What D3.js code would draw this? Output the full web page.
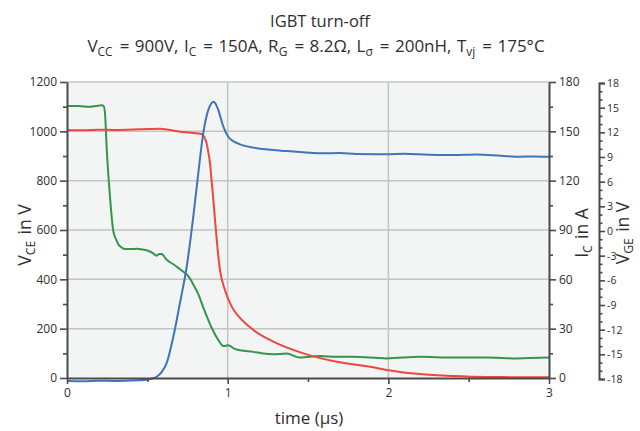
<!DOCTYPE html>
<html>
<head>
<meta charset="utf-8">
<script src="https://cdn.jsdelivr.net/npm/d3@7"></script>
<style>
  html, body { margin: 0; padding: 0; background: #ffffff; }
  svg { display: block; font-family: "Open Sans", "Noto Sans", sans-serif; }
</style>
</head>
<body>
<svg id="chart" width="640" height="431"></svg>
<script>
// ---------- data ----------
const vceTime = [0, 0.1, 0.2, 0.3, 0.4, 0.45, 0.5, 0.53, 0.558, 0.59, 0.62, 0.66, 0.703, 0.745, 0.786, 0.817, 0.848, 0.879, 0.895, 0.911, 0.925, 0.942, 0.973, 1.004, 1.03, 1.056, 1.1, 1.16, 1.25, 1.367, 1.45, 1.575, 1.7, 1.8, 1.99, 2.1, 2.25, 2.4, 2.55, 2.7, 2.82, 2.9, 3.0];
const vceValues = [-12, -13, -11, -12, -10, -9, -6, -2, 5, 25, 60, 162, 304, 451, 654, 830, 992, 1086, 1110, 1120, 1112, 1086, 1019, 978, 962, 953, 942, 934, 926, 920, 916, 911, 912, 908, 907, 909, 905, 904, 906, 901, 897, 898, 897];

const icTime = [0, 0.1, 0.2, 0.3, 0.454, 0.579, 0.64, 0.703, 0.77, 0.838, 0.855, 0.869, 0.88, 0.89, 0.9, 0.911, 0.932, 0.952, 0.983, 1.025, 1.077, 1.16, 1.284, 1.471, 1.679, 1.886, 1.99, 2.197, 2.404, 2.61, 2.8, 3.0];
const icValues = [150.8, 150.6, 151, 150.8, 151.2, 151.6, 150.8, 149.8, 149.2, 148.4, 146.5, 142.7, 137, 130.6, 120, 108.2, 83.9, 65.7, 53.5, 43.4, 36.5, 29.2, 22.1, 15.0, 9.9, 6.9, 4.9, 2.4, 1.2, 0.6, 0.5, 0.4];

const vgeTime = [0, 0.07, 0.143, 0.18, 0.216, 0.228, 0.237, 0.247, 0.268, 0.288, 0.305, 0.319, 0.34, 0.361, 0.4, 0.434, 0.47, 0.506, 0.535, 0.558, 0.575, 0.589, 0.62, 0.662, 0.7, 0.734, 0.76, 0.786, 0.82, 0.848, 0.875, 0.901, 0.94, 0.973, 1.004, 1.04, 1.077, 1.16, 1.22, 1.284, 1.367, 1.45, 1.575, 1.68, 1.78, 1.99, 2.197, 2.4, 2.61, 2.8, 3.0];
const vgeValues = [15.2, 15.2, 15.1, 15.2, 15.3, 15.2, 14.2, 10.1, 4.05, 0.0, -1.0, -1.6, -2.0, -2.2, -2.2, -2.15, -2.25, -2.4, -2.7, -3.0, -2.8, -2.8, -3.5, -4.05, -4.6, -5.1, -5.6, -6.5, -7.8, -9.3, -10.6, -11.8, -13.2, -14.0, -13.9, -14.3, -14.5, -14.7, -14.9, -15.0, -14.9, -15.4, -15.2, -15.3, -15.3, -15.5, -15.3, -15.4, -15.4, -15.5, -15.4];

const xTicks = [0, 1, 2, 3];
const xMinorTicks = [0.5, 1.5, 2.5];
const vceTicks = [0, 200, 400, 600, 800, 1000, 1200];
const vceMinorTicks = [100, 300, 500, 700, 900, 1100];
const icTicks = [0, 30, 60, 90, 120, 150, 180];
const icMinorTicks = [15, 45, 75, 105, 135, 165];
const vgeTicks = [-18, -15, -12, -9, -6, -3, 0, 3, 6, 9, 12, 15, 18];
const vgeMinorTicks = [-17, -16, -14, -13, -11, -10, -8, -7, -5, -4, -2, -1, 1, 2, 4, 5, 7, 8, 10, 11, 13, 14, 16, 17];

// ---------- layout ----------
const svg = d3.select("#chart");
const L = 67, R = 549, T = 82, B = 378;
const x = d3.scaleLinear().domain([0, 3]).range([L, R]);
const yV = d3.scaleLinear().domain([0, 1200]).range([B, T]);
const yI = d3.scaleLinear().domain([0, 180]).range([B, T]);
const yG = d3.scaleLinear().domain([-18, 18]).range([B + 1, T + 1]);

const textCol = "#2e2e2e";
const axisCol = "#4a4a4a";
const fmt = d => String(d);   // plain hyphen for negatives, as in the reference

// plot background
svg.append("rect").attr("x", L).attr("y", T).attr("width", R - L).attr("height", B - T)
  .attr("fill", "#f3f4f4");

// grid
const grid = svg.append("g").attr("stroke", "#c4c4c4").attr("stroke-width", 1.5);
grid.selectAll("line.h").data(vceTicks.filter(d => d > 0)).join("line")
  .attr("x1", L).attr("x2", R).attr("y1", d => yV(d)).attr("y2", d => yV(d));
grid.selectAll("line.v").data([1, 2]).join("line")
  .attr("x1", d => x(d)).attr("x2", d => x(d)).attr("y1", T).attr("y2", B);

// curves
function curve(ts, vs, ys, color) {
  const line = d3.line().x((d, i) => x(ts[i])).y((d, i) => ys(vs[i])).curve(d3.curveMonotoneX);
  svg.append("path").datum(vs).attr("d", line).attr("fill", "none")
    .attr("stroke", color).attr("stroke-width", 2).attr("stroke-linejoin", "round");
}
curve(vgeTime, vgeValues, yG, "#33964a");
curve(icTime, icValues, yI, "#f0463f");
curve(vceTime, vceValues, yV, "#3f74bb");

// axes helpers
function styleAxis(g) {
  g.selectAll("path.domain").attr("stroke", axisCol).attr("stroke-width", 2);
  g.selectAll(".tick line").attr("stroke", axisCol).attr("stroke-width", 1.6);
  g.selectAll(".tick text").attr("fill", textCol).attr("font-size", 12)
    .attr("font-family", "'Open Sans', sans-serif");
}
function minor(g) {
  g.select("path.domain").remove();
  g.selectAll(".tick line").attr("stroke", axisCol).attr("stroke-width", 1.6);
}

// bottom axis
const gx = svg.append("g").attr("transform", `translate(0,${B})`)
  .call(d3.axisBottom(x).tickValues(xTicks).tickFormat(fmt).tickSize(6).tickSizeOuter(0).tickPadding(4));
styleAxis(gx);
svg.append("g").attr("transform", `translate(0,${B})`)
  .call(d3.axisBottom(x).tickValues(xMinorTicks).tickFormat("").tickSize(4).tickSizeOuter(0))
  .call(minor);

// left axis
const gl = svg.append("g").attr("transform", `translate(${L},0)`)
  .call(d3.axisLeft(yV).tickValues(vceTicks).tickFormat(fmt).tickSize(7).tickSizeOuter(0).tickPadding(3));
styleAxis(gl);
svg.append("g").attr("transform", `translate(${L},0)`)
  .call(d3.axisLeft(yV).tickValues(vceMinorTicks).tickFormat("").tickSize(4).tickSizeOuter(0))
  .call(minor);

// right Ic axis
const gr = svg.append("g").attr("transform", `translate(${R},0)`)
  .call(d3.axisRight(yI).tickValues(icTicks).tickFormat(fmt).tickSize(7).tickSizeOuter(0).tickPadding(3));
styleAxis(gr);
svg.append("g").attr("transform", `translate(${R},0)`)
  .call(d3.axisRight(yI).tickValues(icMinorTicks).tickFormat("").tickSize(4).tickSizeOuter(0))
  .call(minor);

// VGE axis
const GX = 599;
const gg = svg.append("g").attr("transform", `translate(${GX},0)`)
  .call(d3.axisRight(yG).tickValues(vgeTicks).tickFormat(fmt).tickSize(6).tickSizeOuter(6).tickPadding(2));
styleAxis(gg);
gg.selectAll(".tick text").attr("font-size", 10.5);
svg.append("g").attr("transform", `translate(${GX},0)`)
  .call(d3.axisRight(yG).tickValues(vgeMinorTicks).tickFormat("").tickSize(3.5).tickSizeOuter(0))
  .call(minor);

// ---------- texts ----------
function subText(parent, parts, attrs) {
  const t = parent.append("text");
  Object.entries(attrs).forEach(([k, v]) => t.attr(k, v));
  parts.forEach(p => {
    if (p.sub) {
      t.append("tspan").attr("font-size", "0.7em").attr("dy", "0.3em").text(p.sub);
      t.append("tspan").attr("dy", "-0.21em").text("\u200A");
    } else {
      t.append("tspan").text(p.t);
    }
  });
  return t;
}

svg.append("text").attr("x", 320).attr("y", 27).attr("text-anchor", "middle")
  .attr("font-size", 16.5).attr("fill", textCol).text("IGBT turn-off");

subText(svg, [
  {t: "V"}, {sub: "CC"}, {t: " = 900V, I"}, {sub: "C"}, {t: " = 150A, R"}, {sub: "G"},
  {t: " = 8.2\u03A9, L"}, {sub: "\u03C3"}, {t: " = 200nH, T"}, {sub: "vj"}, {t: " = 175°C"}
], {x: 316, y: 52, "text-anchor": "middle", "font-size": 17, fill: textCol, "word-spacing": 1});

svg.append("text").attr("x", 309).attr("y", 424).attr("text-anchor", "middle")
  .attr("font-size", 17).attr("fill", textCol).text("time (\u00B5s)");

const yl = svg.append("g").attr("transform", "translate(31,235) rotate(-90)");
subText(yl, [{t: "V"}, {sub: "CE"}, {t: " in V"}], {x: 0, y: 0, "text-anchor": "middle", "font-size": 17.5, fill: textCol});

const il = svg.append("g").attr("transform", "translate(588,233) rotate(-90)");
subText(il, [{t: "I"}, {sub: "C"}, {t: " in A"}], {x: 0, y: 0, "text-anchor": "middle", "font-size": 17.5, fill: textCol});

const gl2 = svg.append("g").attr("transform", "translate(629,233) rotate(-90)");
subText(gl2, [{t: "V"}, {sub: "GE"}, {t: " in V"}], {x: 0, y: 0, "text-anchor": "middle", "font-size": 17.5, fill: textCol});
</script>
</body>
</html>
